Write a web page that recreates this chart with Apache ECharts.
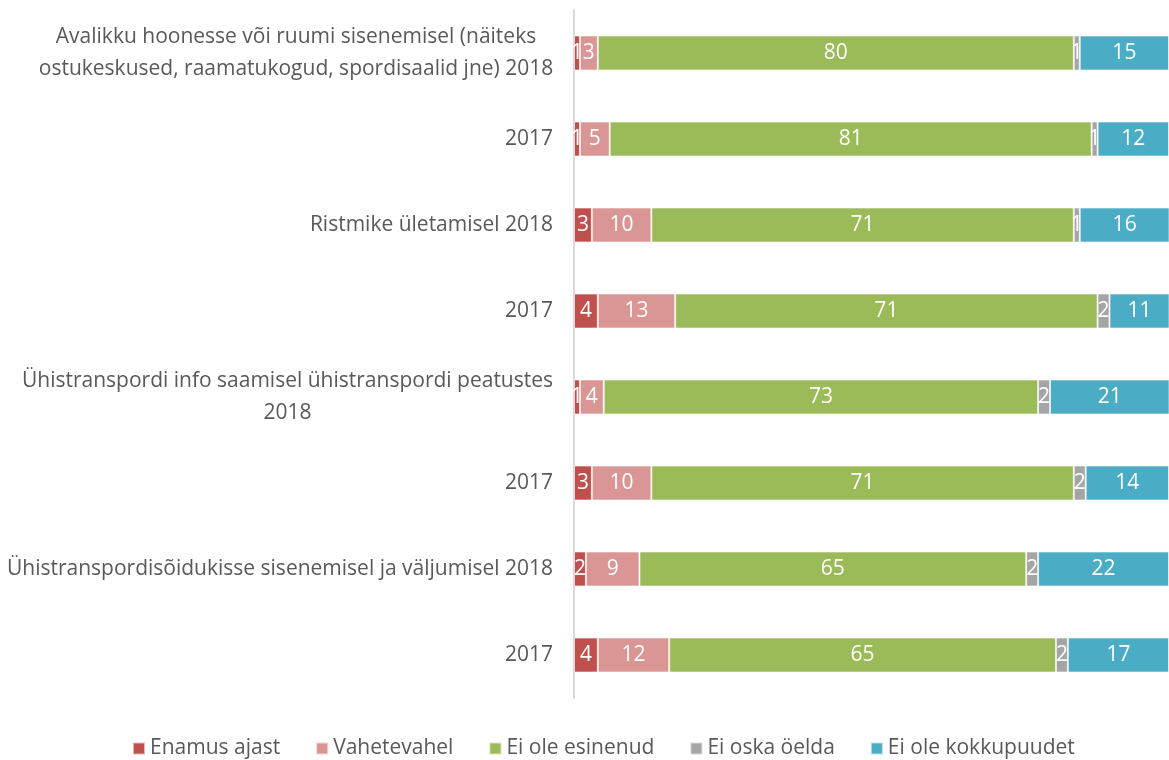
<!DOCTYPE html>
<html><head><meta charset="utf-8">
<script src="https://cdn.jsdelivr.net/npm/echarts@6/dist/echarts.min.js"></script>
<style>html,body{margin:0;padding:0;background:#fff}#c{width:1169px;height:760px}</style>
</head><body><div id="c"></div>
<script>
const categories = [
  'Avalikku hoonesse või ruumi sisenemisel (näiteks\nostukeskused, raamatukogud, spordisaalid jne) 2018',
  '2017',
  'Ristmike ületamisel 2018',
  '2017',
  'Ühistranspordi info saamisel ühistranspordi peatustes\n2018',
  '2017',
  'Ühistranspordisõidukisse sisenemisel ja väljumisel 2018',
  '2017'
];
const seriesNames = ['Enamus ajast', 'Vahetevahel', 'Ei ole esinenud', 'Ei oska öelda', 'Ei ole kokkupuudet'];
const enamusAjast = [1, 1, 3, 4, 1, 3, 2, 4];
const vahetevahel = [3, 5, 10, 13, 4, 10, 9, 12];
const eiOleEsinenud = [80, 81, 71, 71, 73, 71, 65, 65];
const eiOskaOelda = [1, 1, 1, 2, 2, 2, 2, 2];
const eiOleKokkupuudet = [15, 12, 16, 11, 21, 14, 22, 17];
const colors = ['#C0504D', '#D99694', '#9BBB59', '#A5A5A5', '#4BACC6'];

const FONT = '"Open Sans", sans-serif';
const FS = 21;
const cv = document.createElement('canvas').getContext('2d');
cv.font = FS + 'px ' + FONT;
const rich = {};
categories.forEach((c, i) => {
  const lines = c.split('\n');
  const w = Math.max(...lines.map(l => cv.measureText(l).width));
  rich['c' + i] = { width: Math.ceil(w) + 1, align: 'center', fontSize: FS, fontFamily: FONT, color: '#595959', lineHeight: 32 };
});

const allData = [enamusAjast, vahetevahel, eiOleEsinenud, eiOskaOelda, eiOleKokkupuudet];
const chart = echarts.init(document.getElementById('c'));
chart.setOption({
  animation: false,
  grid: { left: 574, right: 0, top: 10, bottom: 62, containLabel: false },
  legend: {
    left: 127, top: 733, icon: 'rect', itemWidth: 12, itemHeight: 12, itemGap: 35,
    textStyle: { color: '#595959', fontSize: FS, fontFamily: FONT },
    data: seriesNames
  },
  xAxis: { type: 'value', min: 0, max: 100, show: false },
  yAxis: {
    type: 'category', inverse: true, data: categories,
    axisLine: { show: true, lineStyle: { color: '#D9D9D9', width: 2 } },
    axisTick: { show: false },
    axisLabel: {
      margin: 20, align: 'right',
      formatter: (v, i) => v.split('\n').map(l => '{c' + i + '|' + l + '}').join('\n'),
      rich: rich
    }
  },
  series: seriesNames.map((n, k) => ({
    name: n, type: 'bar', stack: 'total', barWidth: 35,
    data: allData[k],
    itemStyle: { color: colors[k], borderColor: 'rgba(255,255,255,0.6)', borderWidth: 1 },
    label: { show: true, position: 'inside', color: '#fff', fontSize: FS, fontFamily: FONT }
  }))
});
</script></body></html>
